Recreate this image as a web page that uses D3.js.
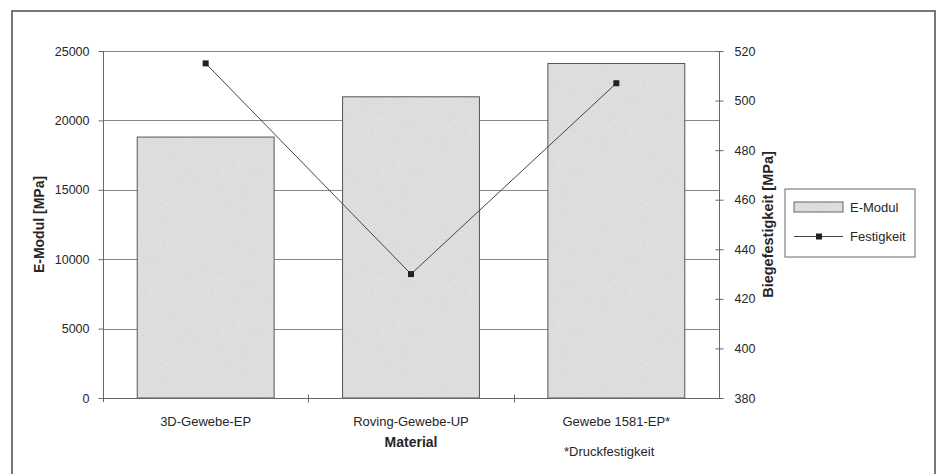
<!DOCTYPE html>
<html>
<head>
<meta charset="utf-8">
<script src="https://cdn.jsdelivr.net/npm/d3@7/dist/d3.min.js"></script>
<style>
  html, body { margin: 0; padding: 0; background: #fff; }
  svg { display: block; font-family: "Liberation Sans", Arial, sans-serif; }
</style>
</head>
<body>
<svg id="chart" width="944" height="474"></svg>
<script>
// Material comparison: modulus (bars, left axis) and bending strength (line, right axis)
const categories = ["3D-Gewebe-EP", "Roving-Gewebe-UP", "Gewebe 1581-EP*"];
const eModul = [18800, 21700, 24100];
const festigkeit = [515, 430, 507];
const leftTicks = [0, 5000, 10000, 15000, 20000, 25000];
const rightTicks = [380, 400, 420, 440, 460, 480, 500, 520];

const svg = d3.select("#chart");
const plot = { left: 103, right: 719, top: 51, bottom: 398 };
const axisColor = "#666";
const textColor = "#262626";
const fontFam = "'Liberation Sans', Arial, sans-serif";

// grain texture for the bar fill
const defs = svg.append("defs");
const noise = defs.append("filter").attr("id", "grain")
  .attr("x", 0).attr("y", 0).attr("width", "100%").attr("height", "100%");
noise.append("feTurbulence").attr("type", "fractalNoise")
  .attr("baseFrequency", 1.1).attr("numOctaves", 2).attr("seed", 3);
noise.append("feColorMatrix").attr("type", "matrix")
  .attr("values", "0 0 0 0 0.6  0 0 0 0 0.6  0 0 0 0 0.6  0 0 0 1.8 -0.7");
const pat = defs.append("pattern").attr("id", "barFill")
  .attr("patternUnits", "userSpaceOnUse").attr("width", 160).attr("height", 160);
pat.append("rect").attr("width", 160).attr("height", 160).attr("fill", "#e0e0e0");
pat.append("rect").attr("width", 160).attr("height", 160).attr("fill", "#fff")
  .attr("filter", "url(#grain)").attr("opacity", 0.6);

// outer frame
svg.append("rect").attr("x", 12).attr("y", 11).attr("width", 923).attr("height", 480)
  .attr("fill", "none").attr("stroke", "#555").attr("stroke-width", 1.6);

const x = d3.scaleBand().domain(categories)
  .range([plot.left, plot.right]).paddingInner(1 / 3).paddingOuter(1 / 6);
const yL = d3.scaleLinear().domain([0, 25000]).range([plot.bottom, plot.top]);
const yR = d3.scaleLinear().domain([380, 520]).range([plot.bottom, plot.top]);

// horizontal gridlines
svg.append("g").selectAll("line").data(leftTicks.filter(d => d > 0)).join("line")
  .attr("x1", plot.left).attr("x2", plot.right)
  .attr("y1", d => Math.round(yL(d)) + 0.5).attr("y2", d => Math.round(yL(d)) + 0.5)
  .attr("stroke", "#888").attr("stroke-width", 1);

// bars
svg.append("g").selectAll("rect").data(categories).join("rect")
  .attr("x", d => x(d))
  .attr("y", (d, i) => yL(eModul[i]))
  .attr("width", x.bandwidth())
  .attr("height", (d, i) => yL(0) - yL(eModul[i]))
  .attr("fill", "url(#barFill)").attr("stroke", "#555").attr("stroke-width", 1);

// left axis
const gL = svg.append("g").attr("transform", `translate(${plot.left + 0.5},0)`)
  .call(d3.axisLeft(yL).tickValues(leftTicks).tickSize(5).tickPadding(9).tickFormat(d3.format("d")));
gL.select(".domain").attr("stroke", axisColor).attr("d", `M-0,${plot.top}V${plot.bottom + 4}`);
gL.selectAll(".tick line").attr("stroke", axisColor);
gL.selectAll("text").attr("font-size", 12.5).attr("fill", textColor).attr("font-family", fontFam);

// right axis with crossing ticks
const gR = svg.append("g").attr("transform", `translate(${plot.right + 0.5},0)`)
  .call(d3.axisRight(yR).tickValues(rightTicks).tickSize(4).tickPadding(11));
gR.select(".domain").attr("stroke", axisColor).attr("d", `M0,${plot.top}V${plot.bottom}`);
gR.selectAll(".tick line").attr("stroke", axisColor).attr("x1", -4).attr("x2", 4);
gR.selectAll("text").attr("font-size", 12.5).attr("fill", textColor).attr("font-family", fontFam);

// bottom axis: category boundaries as crossing ticks
const gB = svg.append("g").attr("transform", `translate(0,${plot.bottom + 0.5})`);
gB.append("line").attr("x1", plot.left - 4).attr("x2", plot.right + 4)
  .attr("stroke", axisColor);
const bounds = categories.map(c => x(c) - x.step() * x.paddingInner() / 2)
  .concat([x(categories[categories.length - 1]) + x.bandwidth() + x.step() * x.paddingInner() / 2]);
gB.selectAll("line.b").data(bounds.slice(1, -1)).join("line").attr("class", "b")
  .attr("x1", d => Math.round(d) + 0.5).attr("x2", d => Math.round(d) + 0.5)
  .attr("y1", -4).attr("y2", 4).attr("stroke", axisColor);
gB.selectAll("text").data(categories).join("text")
  .attr("x", d => x(d) + x.bandwidth() / 2).attr("y", 27)
  .attr("text-anchor", "middle").attr("font-size", 13).attr("fill", textColor)
  .text(d => d);

// strength line with square markers
const lineGen = d3.line()
  .x((d, i) => x(categories[i]) + x.bandwidth() / 2)
  .y(d => yR(d));
svg.append("path").datum(festigkeit).attr("d", lineGen)
  .attr("fill", "none").attr("stroke", "#444").attr("stroke-width", 1);
svg.append("g").selectAll("rect").data(festigkeit).join("rect")
  .attr("x", (d, i) => x(categories[i]) + x.bandwidth() / 2 - 3)
  .attr("y", d => yR(d) - 3)
  .attr("width", 6).attr("height", 6).attr("fill", "#222");

// axis titles
svg.append("text").attr("transform", `translate(44,${(plot.top + plot.bottom) / 2}) rotate(-90)`)
  .attr("text-anchor", "middle").attr("font-size", 14).attr("font-weight", "bold")
  .attr("fill", textColor).text("E-Modul [MPa]");
svg.append("text").attr("transform", `translate(773,${(plot.top + plot.bottom) / 2}) rotate(-90)`)
  .attr("text-anchor", "middle").attr("font-size", 14.5).attr("font-weight", "bold")
  .attr("fill", textColor).text("Biegefestigkeit [MPa]");
svg.append("text").attr("x", (plot.left + plot.right) / 2).attr("y", 447)
  .attr("text-anchor", "middle").attr("font-size", 14).attr("font-weight", "bold")
  .attr("fill", textColor).text("Material");
svg.append("text").attr("x", 564).attr("y", 456)
  .attr("font-size", 13).attr("fill", textColor).text("*Druckfestigkeit");

// legend
const lg = svg.append("g").attr("transform", "translate(785,189)");
lg.append("rect").attr("width", 130).attr("height", 68)
  .attr("fill", "#fff").attr("stroke", "#666").attr("stroke-width", 1);
lg.append("rect").attr("x", 9).attr("y", 13).attr("width", 49).attr("height", 10)
  .attr("fill", "url(#barFill)").attr("stroke", "#666");
lg.append("text").attr("x", 65).attr("y", 22.5).attr("font-size", 13)
  .attr("fill", textColor).text("E-Modul");
lg.append("line").attr("x1", 9).attr("x2", 58).attr("y1", 47.5).attr("y2", 47.5)
  .attr("stroke", "#444");
lg.append("rect").attr("x", 31).attr("y", 44.5).attr("width", 6).attr("height", 6).attr("fill", "#222");
lg.append("text").attr("x", 65).attr("y", 51.5).attr("font-size", 13)
  .attr("fill", textColor).text("Festigkeit");
</script>
</body>
</html>
